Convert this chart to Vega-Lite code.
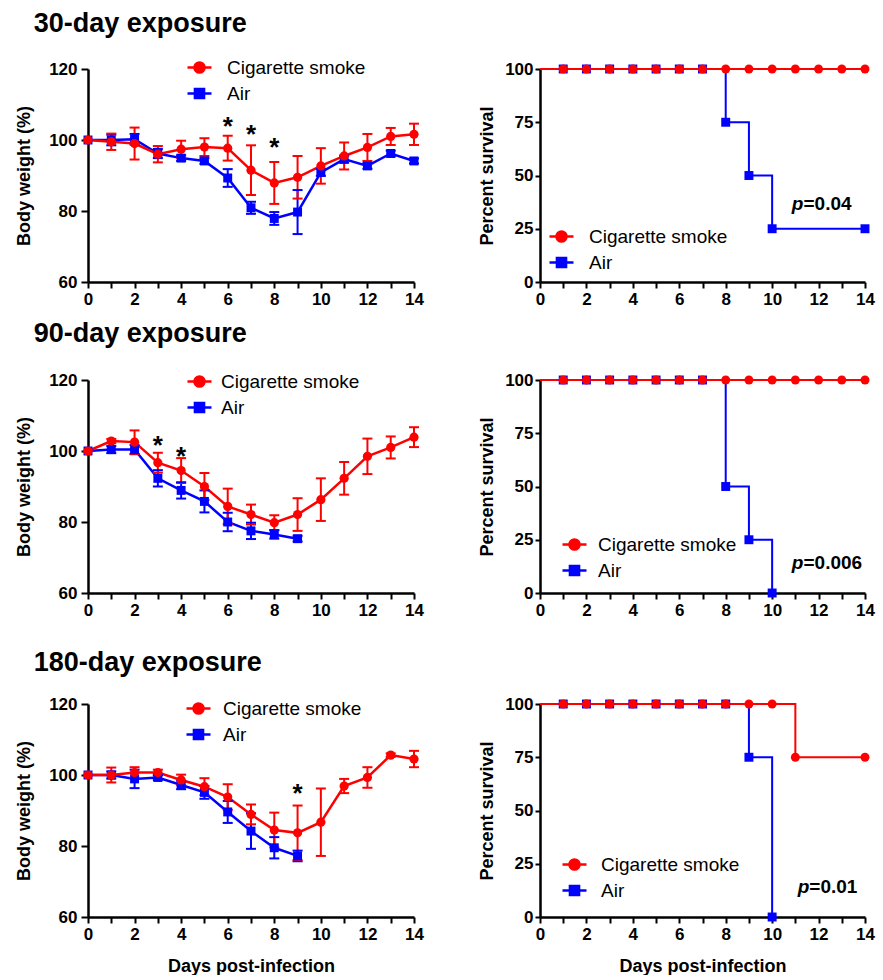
{
  "$schema": "https://vega.github.io/schema/vega-lite/v6.json",
  "padding": {"left": 15, "top": 10, "right": 4, "bottom": 0},
  "config": {
    "view": {"stroke": null},
    "font": "Liberation Sans",
    "axis": {
      "grid": false, "domainColor": "black", "domainWidth": 2.5, "tickColor": "black", "tickWidth": 2,
      "labelFont": "Liberation Sans", "labelFontSize": 17, "labelFontWeight": "bold", "labelColor": "black",
      "titleFont": "Liberation Sans", "titleFontSize": 18, "titleFontWeight": "bold", "titleColor": "black",
      "labelOverlap": false, "labelFlush": false
    },
    "legend": {
      "title": null, "orient": "none", "padding": 0,
      "labelFont": "Liberation Sans", "labelFontSize": 19, "labelFontWeight": "normal", "labelColor": "black",
      "symbolSize": 576, "rowPadding": 2, "symbolOpacity": 1, "symbolStrokeWidth": 2.5
    },
    "title": {"font": "Liberation Sans", "fontSize": 27, "fontWeight": "bold", "color": "black", "anchor": "start"}
  },
  "datasets": {
    "bw30": [
      {"day": 0, "group": "Air", "mean": 100, "lo": 100, "hi": 100},
      {"day": 1, "group": "Air", "mean": 100.0, "lo": 98.5, "hi": 101.5},
      {"day": 2, "group": "Air", "mean": 100.2, "lo": 98.7, "hi": 101.7},
      {"day": 3, "group": "Air", "mean": 96.2, "lo": 94.9, "hi": 97.5},
      {"day": 4, "group": "Air", "mean": 94.9, "lo": 94.1, "hi": 95.7},
      {"day": 5, "group": "Air", "mean": 94.1, "lo": 93.3, "hi": 94.9},
      {"day": 6, "group": "Air", "mean": 89.3, "lo": 86.8, "hi": 91.8},
      {"day": 7, "group": "Air", "mean": 80.9, "lo": 79.2, "hi": 82.6},
      {"day": 8, "group": "Air", "mean": 77.9, "lo": 76.1, "hi": 79.7},
      {"day": 9, "group": "Air", "mean": 79.7, "lo": 73.5, "hi": 85.9},
      {"day": 10, "group": "Air", "mean": 90.9, "lo": 89.9, "hi": 91.9},
      {"day": 11, "group": "Air", "mean": 94.6, "lo": 93.6, "hi": 95.6},
      {"day": 12, "group": "Air", "mean": 92.7, "lo": 91.9, "hi": 93.5},
      {"day": 13, "group": "Air", "mean": 96.2, "lo": 95.4, "hi": 97.0},
      {"day": 14, "group": "Air", "mean": 94.1, "lo": 93.4, "hi": 94.8},
      {"day": 0, "group": "Cigarette smoke", "mean": 100, "lo": 100, "hi": 100},
      {"day": 1, "group": "Cigarette smoke", "mean": 99.5, "lo": 97.2, "hi": 101.8},
      {"day": 2, "group": "Cigarette smoke", "mean": 99.0, "lo": 94.5, "hi": 103.5},
      {"day": 3, "group": "Cigarette smoke", "mean": 96.0, "lo": 93.7, "hi": 98.3},
      {"day": 4, "group": "Cigarette smoke", "mean": 97.4, "lo": 95.0, "hi": 99.8},
      {"day": 5, "group": "Cigarette smoke", "mean": 98.0, "lo": 95.5, "hi": 100.5},
      {"day": 6, "group": "Cigarette smoke", "mean": 97.7, "lo": 94.2, "hi": 101.2},
      {"day": 7, "group": "Cigarette smoke", "mean": 91.5, "lo": 84.5, "hi": 98.5},
      {"day": 8, "group": "Cigarette smoke", "mean": 87.9, "lo": 82.0, "hi": 93.8},
      {"day": 9, "group": "Cigarette smoke", "mean": 89.5, "lo": 83.5, "hi": 95.5},
      {"day": 10, "group": "Cigarette smoke", "mean": 92.7, "lo": 87.7, "hi": 97.7},
      {"day": 11, "group": "Cigarette smoke", "mean": 95.5, "lo": 91.7, "hi": 99.3},
      {"day": 12, "group": "Cigarette smoke", "mean": 97.9, "lo": 94.1, "hi": 101.7},
      {"day": 13, "group": "Cigarette smoke", "mean": 101.0, "lo": 98.6, "hi": 103.4},
      {"day": 14, "group": "Cigarette smoke", "mean": 101.6, "lo": 98.6, "hi": 104.6}
    ],
    "bw90": [
      {"day": 0, "group": "Air", "mean": 100, "lo": 100, "hi": 100},
      {"day": 1, "group": "Air", "mean": 100.4, "lo": 99.4, "hi": 101.4},
      {"day": 2, "group": "Air", "mean": 100.4, "lo": 99.1, "hi": 101.7},
      {"day": 3, "group": "Air", "mean": 92.3, "lo": 90.0, "hi": 94.6},
      {"day": 4, "group": "Air", "mean": 88.9, "lo": 86.6, "hi": 91.2},
      {"day": 5, "group": "Air", "mean": 85.8, "lo": 82.7, "hi": 88.9},
      {"day": 6, "group": "Air", "mean": 80.0, "lo": 77.4, "hi": 82.6},
      {"day": 7, "group": "Air", "mean": 77.5, "lo": 75.2, "hi": 79.8},
      {"day": 8, "group": "Air", "mean": 76.5, "lo": 75.3, "hi": 77.7},
      {"day": 9, "group": "Air", "mean": 75.3, "lo": 74.5, "hi": 76.1},
      {"day": 0, "group": "Cigarette smoke", "mean": 100, "lo": 100, "hi": 100},
      {"day": 1, "group": "Cigarette smoke", "mean": 102.8, "lo": 102.2, "hi": 103.4},
      {"day": 2, "group": "Cigarette smoke", "mean": 102.5, "lo": 99.2, "hi": 105.8},
      {"day": 3, "group": "Cigarette smoke", "mean": 96.7, "lo": 93.9, "hi": 99.5},
      {"day": 4, "group": "Cigarette smoke", "mean": 94.5, "lo": 91.0, "hi": 98.0},
      {"day": 5, "group": "Cigarette smoke", "mean": 90.0, "lo": 86.2, "hi": 93.8},
      {"day": 6, "group": "Cigarette smoke", "mean": 84.4, "lo": 79.4, "hi": 89.4},
      {"day": 7, "group": "Cigarette smoke", "mean": 82.1, "lo": 79.3, "hi": 84.9},
      {"day": 8, "group": "Cigarette smoke", "mean": 79.8, "lo": 77.7, "hi": 81.9},
      {"day": 9, "group": "Cigarette smoke", "mean": 82.1, "lo": 77.5, "hi": 86.7},
      {"day": 10, "group": "Cigarette smoke", "mean": 86.3, "lo": 80.3, "hi": 92.3},
      {"day": 11, "group": "Cigarette smoke", "mean": 92.3, "lo": 87.7, "hi": 96.9},
      {"day": 12, "group": "Cigarette smoke", "mean": 98.5, "lo": 93.5, "hi": 103.5},
      {"day": 13, "group": "Cigarette smoke", "mean": 101.0, "lo": 97.9, "hi": 104.1},
      {"day": 14, "group": "Cigarette smoke", "mean": 103.9, "lo": 101.1, "hi": 106.7}
    ],
    "bw180": [
      {"day": 0, "group": "Air", "mean": 100, "lo": 100, "hi": 100},
      {"day": 1, "group": "Air", "mean": 100.0, "lo": 99.0, "hi": 101.0},
      {"day": 2, "group": "Air", "mean": 98.9, "lo": 96.3, "hi": 101.5},
      {"day": 3, "group": "Air", "mean": 99.3, "lo": 98.6, "hi": 100.0},
      {"day": 4, "group": "Air", "mean": 97.2, "lo": 96.0, "hi": 98.4},
      {"day": 5, "group": "Air", "mean": 95.1, "lo": 93.3, "hi": 96.9},
      {"day": 6, "group": "Air", "mean": 89.6, "lo": 86.5, "hi": 92.7},
      {"day": 7, "group": "Air", "mean": 84.2, "lo": 79.2, "hi": 89.2},
      {"day": 8, "group": "Air", "mean": 79.5, "lo": 76.5, "hi": 82.5},
      {"day": 9, "group": "Air", "mean": 77.2, "lo": 75.7, "hi": 78.7},
      {"day": 0, "group": "Cigarette smoke", "mean": 100, "lo": 100, "hi": 100},
      {"day": 1, "group": "Cigarette smoke", "mean": 100.0, "lo": 97.9, "hi": 102.1},
      {"day": 2, "group": "Cigarette smoke", "mean": 100.7, "lo": 99.2, "hi": 102.2},
      {"day": 3, "group": "Cigarette smoke", "mean": 100.7, "lo": 99.9, "hi": 101.5},
      {"day": 4, "group": "Cigarette smoke", "mean": 98.6, "lo": 97.1, "hi": 100.1},
      {"day": 5, "group": "Cigarette smoke", "mean": 96.7, "lo": 94.3, "hi": 99.1},
      {"day": 6, "group": "Cigarette smoke", "mean": 93.8, "lo": 90.2, "hi": 97.4},
      {"day": 7, "group": "Cigarette smoke", "mean": 88.9, "lo": 86.1, "hi": 91.7},
      {"day": 8, "group": "Cigarette smoke", "mean": 84.5, "lo": 79.6, "hi": 89.4},
      {"day": 9, "group": "Cigarette smoke", "mean": 83.7, "lo": 76.0, "hi": 91.4},
      {"day": 10, "group": "Cigarette smoke", "mean": 86.7, "lo": 77.2, "hi": 96.2},
      {"day": 11, "group": "Cigarette smoke", "mean": 96.9, "lo": 94.9, "hi": 98.9},
      {"day": 12, "group": "Cigarette smoke", "mean": 99.3, "lo": 96.4, "hi": 102.2},
      {"day": 13, "group": "Cigarette smoke", "mean": 105.6, "lo": 105.1, "hi": 106.1},
      {"day": 14, "group": "Cigarette smoke", "mean": 104.5, "lo": 102.2, "hi": 106.8}
    ],
    "star30": [{"day": 6, "y": 105.3}, {"day": 7, "y": 103.0}, {"day": 8, "y": 99.5}],
    "star90": [{"day": 3, "y": 103.2}, {"day": 4, "y": 100.0}],
    "star180": [{"day": 9, "y": 96.3}],
    "sv30": [
      {"day": 0, "group": "Air", "pct": 100}, {"day": 1, "group": "Air", "pct": 100}, {"day": 2, "group": "Air", "pct": 100},
      {"day": 3, "group": "Air", "pct": 100}, {"day": 4, "group": "Air", "pct": 100}, {"day": 5, "group": "Air", "pct": 100},
      {"day": 6, "group": "Air", "pct": 100}, {"day": 7, "group": "Air", "pct": 100}, {"day": 8, "group": "Air", "pct": 75},
      {"day": 9, "group": "Air", "pct": 50}, {"day": 10, "group": "Air", "pct": 25}, {"day": 14, "group": "Air", "pct": 25},
      {"day": 0, "group": "Cigarette smoke", "pct": 100}, {"day": 1, "group": "Cigarette smoke", "pct": 100},
      {"day": 2, "group": "Cigarette smoke", "pct": 100}, {"day": 3, "group": "Cigarette smoke", "pct": 100},
      {"day": 4, "group": "Cigarette smoke", "pct": 100}, {"day": 5, "group": "Cigarette smoke", "pct": 100},
      {"day": 6, "group": "Cigarette smoke", "pct": 100}, {"day": 7, "group": "Cigarette smoke", "pct": 100},
      {"day": 8, "group": "Cigarette smoke", "pct": 100}, {"day": 9, "group": "Cigarette smoke", "pct": 100},
      {"day": 10, "group": "Cigarette smoke", "pct": 100}, {"day": 11, "group": "Cigarette smoke", "pct": 100},
      {"day": 12, "group": "Cigarette smoke", "pct": 100}, {"day": 13, "group": "Cigarette smoke", "pct": 100},
      {"day": 14, "group": "Cigarette smoke", "pct": 100}
    ],
    "sv90": [
      {"day": 0, "group": "Air", "pct": 100}, {"day": 1, "group": "Air", "pct": 100}, {"day": 2, "group": "Air", "pct": 100},
      {"day": 3, "group": "Air", "pct": 100}, {"day": 4, "group": "Air", "pct": 100}, {"day": 5, "group": "Air", "pct": 100},
      {"day": 6, "group": "Air", "pct": 100}, {"day": 7, "group": "Air", "pct": 100}, {"day": 8, "group": "Air", "pct": 50},
      {"day": 9, "group": "Air", "pct": 25}, {"day": 10, "group": "Air", "pct": 0},
      {"day": 0, "group": "Cigarette smoke", "pct": 100}, {"day": 1, "group": "Cigarette smoke", "pct": 100},
      {"day": 2, "group": "Cigarette smoke", "pct": 100}, {"day": 3, "group": "Cigarette smoke", "pct": 100},
      {"day": 4, "group": "Cigarette smoke", "pct": 100}, {"day": 5, "group": "Cigarette smoke", "pct": 100},
      {"day": 6, "group": "Cigarette smoke", "pct": 100}, {"day": 7, "group": "Cigarette smoke", "pct": 100},
      {"day": 8, "group": "Cigarette smoke", "pct": 100}, {"day": 9, "group": "Cigarette smoke", "pct": 100},
      {"day": 10, "group": "Cigarette smoke", "pct": 100}, {"day": 11, "group": "Cigarette smoke", "pct": 100},
      {"day": 12, "group": "Cigarette smoke", "pct": 100}, {"day": 13, "group": "Cigarette smoke", "pct": 100},
      {"day": 14, "group": "Cigarette smoke", "pct": 100}
    ],
    "sv180": [
      {"day": 0, "group": "Air", "pct": 100}, {"day": 1, "group": "Air", "pct": 100}, {"day": 2, "group": "Air", "pct": 100},
      {"day": 3, "group": "Air", "pct": 100}, {"day": 4, "group": "Air", "pct": 100}, {"day": 5, "group": "Air", "pct": 100},
      {"day": 6, "group": "Air", "pct": 100}, {"day": 7, "group": "Air", "pct": 100}, {"day": 8, "group": "Air", "pct": 100},
      {"day": 9, "group": "Air", "pct": 75}, {"day": 10, "group": "Air", "pct": 0},
      {"day": 0, "group": "Cigarette smoke", "pct": 100}, {"day": 1, "group": "Cigarette smoke", "pct": 100},
      {"day": 2, "group": "Cigarette smoke", "pct": 100}, {"day": 3, "group": "Cigarette smoke", "pct": 100},
      {"day": 4, "group": "Cigarette smoke", "pct": 100}, {"day": 5, "group": "Cigarette smoke", "pct": 100},
      {"day": 6, "group": "Cigarette smoke", "pct": 100}, {"day": 7, "group": "Cigarette smoke", "pct": 100},
      {"day": 8, "group": "Cigarette smoke", "pct": 100}, {"day": 9, "group": "Cigarette smoke", "pct": 100},
      {"day": 10, "group": "Cigarette smoke", "pct": 100}, {"day": 11, "group": "Cigarette smoke", "pct": 75},
      {"day": 14, "group": "Cigarette smoke", "pct": 75}
    ],
    "p30": [{"day": 11.35, "y": 36.5, "value": "=0.04"}],
    "p90": [{"day": 11.35, "y": 14, "value": "=0.006"}],
    "p180": [{"day": 11.6, "y": 14, "value": "=0.01"}]
  },
  "resolve": {"scale": {"color": "independent"}},
  "spacing": 31,
  "vconcat": [
    {
      "resolve": {"scale": {"color": "independent"}},
      "spacing": 13,
      "vconcat": [
        {
          "title": {"text": "30-day exposure", "offset": 16, "dx": 18},
          "resolve": {"scale": {"color": "independent"}},
          "spacing": 54,
          "hconcat": [
            {
              "width": 326, "height": 213,
              "data": {"name": "bw30"},
              "encoding": {"x": {"field": "day", "type": "quantitative", "scale": {"domain": [0, 14], "nice": false},
                "axis": {"values": [0,1,2,3,4,5,6,7,8,9,10,11,12,13,14], "labelExpr": "datum.value % 2 === 0 ? datum.label : ''", "labelOverlap": false, "title": null, "tickSize": 6, "labelPadding": 3}}},
              "layer": [
                {"mark": {"type": "line", "strokeWidth": 2.5},
                 "encoding": {
                   "y": {"field": "mean", "type": "quantitative", "scale": {"domain": [60, 120], "nice": false},
                     "axis": {"values": [60,70,80,90,100,110,120], "labelOverlap": false, "title": "Body weight (%)", "tickSize": 7, "labelPadding": 4, "titlePadding": 15}},
                   "color": {"field": "group", "type": "nominal", "scale": {"domain": ["Cigarette smoke", "Air"], "range": ["#ff0000", "#0000ff"]},
                     "legend": {"legendX": 98, "legendY": -15, "labelOffset": 14,
                       "encode": {"symbols": {"update": {
                         "shape": {"signal": "datum.value === 'Air' ? 'M-1,0H1M-0.38,-0.38H0.38V0.38H-0.38Z' : 'M-1,0H1M-0.42,0A0.42,0.42 0 1,0 0.42,0A0.42,0.42 0 1,0 -0.42,0Z'"},
                         "stroke": {"signal": "datum.value === 'Air' ? '#0000ff' : '#ff0000'"},
                         "fill": {"signal": "datum.value === 'Air' ? '#0000ff' : '#ff0000'"},
                         "strokeWidth": {"value": 2.5}, "size": {"value": 576}, "opacity": {"value": 1}}}}}}}},
                {"mark": {"type": "rule", "strokeWidth": 2},
                 "encoding": {"y": {"field": "lo", "type": "quantitative"}, "y2": {"field": "hi"}, "color": {"field": "group", "type": "nominal"}}},
                {"mark": {"type": "tick", "orient": "horizontal", "size": 10, "thickness": 2, "opacity": 1},
                 "encoding": {"y": {"field": "lo", "type": "quantitative"}, "color": {"field": "group", "type": "nominal"}}},
                {"mark": {"type": "tick", "orient": "horizontal", "size": 10, "thickness": 2, "opacity": 1},
                 "encoding": {"y": {"field": "hi", "type": "quantitative"}, "color": {"field": "group", "type": "nominal"}}},
                {"transform": [{"filter": "datum.group === 'Air'"}],
                 "mark": {"type": "point", "shape": "square", "filled": true, "size": 80, "opacity": 1},
                 "encoding": {"y": {"field": "mean", "type": "quantitative"}, "color": {"field": "group", "type": "nominal"}}},
                {"transform": [{"filter": "datum.group === 'Cigarette smoke'"}],
                 "mark": {"type": "point", "shape": "circle", "filled": true, "size": 85, "opacity": 1},
                 "encoding": {"y": {"field": "mean", "type": "quantitative"}, "color": {"field": "group", "type": "nominal"}}},
                {"data": {"values": [{"threshold": 75}]},
                 "mark": {"type": "rule", "color": "#ff0000", "strokeWidth": 2, "strokeDash": [2, 4]},
                 "encoding": {"x": {"datum": 0}, "x2": {"datum": 14}, "y": {"field": "threshold", "type": "quantitative"}}},
                {"data": {"name": "star30"},
                 "mark": {"type": "text", "text": "*", "fontSize": 26, "fontWeight": "bold", "baseline": "middle", "dy": 6, "color": "black"},
                 "encoding": {"y": {"field": "y", "type": "quantitative"}}}
              ]
            },
            {
              "width": 325, "height": 213,
              "data": {"name": "sv30"},
              "encoding": {"x": {"field": "day", "type": "quantitative", "scale": {"domain": [0, 14], "nice": false},
                "axis": {"values": [0,1,2,3,4,5,6,7,8,9,10,11,12,13,14], "labelExpr": "datum.value % 2 === 0 ? datum.label : ''", "labelOverlap": false, "title": null, "tickSize": 6, "labelPadding": 3}}},
              "layer": [
                {"mark": {"type": "line", "interpolate": "step-after", "strokeWidth": 2},
                 "encoding": {
                   "y": {"field": "pct", "type": "quantitative", "scale": {"domain": [0, 100], "nice": false},
                     "axis": {"values": [0, 25, 50, 75, 100], "labelOverlap": false, "title": "Percent survival", "tickSize": 5, "labelPadding": 2, "titlePadding": 8}},
                   "color": {"field": "group", "type": "nominal", "scale": {"domain": ["Cigarette smoke", "Air"], "range": ["#ff0000", "#0000ff"]},
                     "legend": {"legendX": 8, "legendY": 154, "labelOffset": 14,
                       "encode": {"symbols": {"update": {
                         "shape": {"signal": "datum.value === 'Air' ? 'M-1,0H1M-0.38,-0.38H0.38V0.38H-0.38Z' : 'M-1,0H1M-0.42,0A0.42,0.42 0 1,0 0.42,0A0.42,0.42 0 1,0 -0.42,0Z'"},
                         "stroke": {"signal": "datum.value === 'Air' ? '#0000ff' : '#ff0000'"},
                         "fill": {"signal": "datum.value === 'Air' ? '#0000ff' : '#ff0000'"},
                         "strokeWidth": {"value": 2.5}, "size": {"value": 576}, "opacity": {"value": 1}}}}}}}},
                {"transform": [{"filter": "datum.day > 0 && datum.group === 'Air'"}],
                 "mark": {"type": "point", "shape": "square", "filled": true, "size": 80, "opacity": 1},
                 "encoding": {"y": {"field": "pct", "type": "quantitative"}, "color": {"field": "group", "type": "nominal"}}},
                {"transform": [{"filter": "datum.day > 0 && datum.group === 'Cigarette smoke'"}],
                 "mark": {"type": "point", "shape": "circle", "filled": true, "size": 80, "opacity": 1},
                 "encoding": {"y": {"field": "pct", "type": "quantitative"}, "color": {"field": "group", "type": "nominal"}}},
                {"data": {"name": "p30"},
                 "mark": {"type": "text", "text": "p", "fontSize": 19, "fontWeight": "bold", "fontStyle": "italic", "align": "right", "baseline": "middle", "color": "black"},
                 "encoding": {"y": {"field": "y", "type": "quantitative"}}},
                {"data": {"name": "p30"},
                 "mark": {"type": "text", "fontSize": 19, "fontWeight": "bold", "align": "left", "baseline": "middle", "color": "black"},
                 "encoding": {"y": {"field": "y", "type": "quantitative"}, "text": {"field": "value"}}}
              ]
            }
          ]
        },
        {
          "title": {"text": "90-day exposure", "offset": 20, "dx": 18},
          "resolve": {"scale": {"color": "independent"}},
          "spacing": 54,
          "hconcat": [
            {
              "width": 326, "height": 213,
              "data": {"name": "bw90"},
              "encoding": {"x": {"field": "day", "type": "quantitative", "scale": {"domain": [0, 14], "nice": false},
                "axis": {"values": [0,1,2,3,4,5,6,7,8,9,10,11,12,13,14], "labelExpr": "datum.value % 2 === 0 ? datum.label : ''", "labelOverlap": false, "title": null, "tickSize": 6, "labelPadding": 3}}},
              "layer": [
                {"mark": {"type": "line", "strokeWidth": 2.5},
                 "encoding": {
                   "y": {"field": "mean", "type": "quantitative", "scale": {"domain": [60, 120], "nice": false},
                     "axis": {"values": [60,70,80,90,100,110,120], "labelOverlap": false, "title": "Body weight (%)", "tickSize": 7, "labelPadding": 4, "titlePadding": 15}},
                   "color": {"field": "group", "type": "nominal", "scale": {"domain": ["Cigarette smoke", "Air"], "range": ["#ff0000", "#0000ff"]},
                     "legend": {"legendX": 98, "legendY": -12, "labelOffset": 8,
                       "encode": {"symbols": {"update": {
                         "shape": {"signal": "datum.value === 'Air' ? 'M-1,0H1M-0.38,-0.38H0.38V0.38H-0.38Z' : 'M-1,0H1M-0.42,0A0.42,0.42 0 1,0 0.42,0A0.42,0.42 0 1,0 -0.42,0Z'"},
                         "stroke": {"signal": "datum.value === 'Air' ? '#0000ff' : '#ff0000'"},
                         "fill": {"signal": "datum.value === 'Air' ? '#0000ff' : '#ff0000'"},
                         "strokeWidth": {"value": 2.5}, "size": {"value": 576}, "opacity": {"value": 1}}}}}}}},
                {"mark": {"type": "rule", "strokeWidth": 2},
                 "encoding": {"y": {"field": "lo", "type": "quantitative"}, "y2": {"field": "hi"}, "color": {"field": "group", "type": "nominal"}}},
                {"mark": {"type": "tick", "orient": "horizontal", "size": 10, "thickness": 2, "opacity": 1},
                 "encoding": {"y": {"field": "lo", "type": "quantitative"}, "color": {"field": "group", "type": "nominal"}}},
                {"mark": {"type": "tick", "orient": "horizontal", "size": 10, "thickness": 2, "opacity": 1},
                 "encoding": {"y": {"field": "hi", "type": "quantitative"}, "color": {"field": "group", "type": "nominal"}}},
                {"transform": [{"filter": "datum.group === 'Air'"}],
                 "mark": {"type": "point", "shape": "square", "filled": true, "size": 80, "opacity": 1},
                 "encoding": {"y": {"field": "mean", "type": "quantitative"}, "color": {"field": "group", "type": "nominal"}}},
                {"transform": [{"filter": "datum.group === 'Cigarette smoke'"}],
                 "mark": {"type": "point", "shape": "circle", "filled": true, "size": 85, "opacity": 1},
                 "encoding": {"y": {"field": "mean", "type": "quantitative"}, "color": {"field": "group", "type": "nominal"}}},
                {"data": {"values": [{"threshold": 75}]},
                 "mark": {"type": "rule", "color": "#ff0000", "strokeWidth": 2, "strokeDash": [2, 4]},
                 "encoding": {"x": {"datum": 0}, "x2": {"datum": 14}, "y": {"field": "threshold", "type": "quantitative"}}},
                {"data": {"name": "star90"},
                 "mark": {"type": "text", "text": "*", "fontSize": 26, "fontWeight": "bold", "baseline": "middle", "dy": 6, "color": "black"},
                 "encoding": {"y": {"field": "y", "type": "quantitative"}}}
              ]
            },
            {
              "width": 325, "height": 213,
              "data": {"name": "sv90"},
              "encoding": {"x": {"field": "day", "type": "quantitative", "scale": {"domain": [0, 14], "nice": false},
                "axis": {"values": [0,1,2,3,4,5,6,7,8,9,10,11,12,13,14], "labelExpr": "datum.value % 2 === 0 ? datum.label : ''", "labelOverlap": false, "title": null, "tickSize": 6, "labelPadding": 3}}},
              "layer": [
                {"mark": {"type": "line", "interpolate": "step-after", "strokeWidth": 2},
                 "encoding": {
                   "y": {"field": "pct", "type": "quantitative", "scale": {"domain": [0, 100], "nice": false},
                     "axis": {"values": [0, 25, 50, 75, 100], "labelOverlap": false, "title": "Percent survival", "tickSize": 5, "labelPadding": 2, "titlePadding": 8}},
                   "color": {"field": "group", "type": "nominal", "scale": {"domain": ["Cigarette smoke", "Air"], "range": ["#ff0000", "#0000ff"]},
                     "legend": {"legendX": 21, "legendY": 151, "labelOffset": 10,
                       "encode": {"symbols": {"update": {
                         "shape": {"signal": "datum.value === 'Air' ? 'M-1,0H1M-0.38,-0.38H0.38V0.38H-0.38Z' : 'M-1,0H1M-0.42,0A0.42,0.42 0 1,0 0.42,0A0.42,0.42 0 1,0 -0.42,0Z'"},
                         "stroke": {"signal": "datum.value === 'Air' ? '#0000ff' : '#ff0000'"},
                         "fill": {"signal": "datum.value === 'Air' ? '#0000ff' : '#ff0000'"},
                         "strokeWidth": {"value": 2.5}, "size": {"value": 576}, "opacity": {"value": 1}}}}}}}},
                {"transform": [{"filter": "datum.day > 0 && datum.group === 'Air'"}],
                 "mark": {"type": "point", "shape": "square", "filled": true, "size": 80, "opacity": 1},
                 "encoding": {"y": {"field": "pct", "type": "quantitative"}, "color": {"field": "group", "type": "nominal"}}},
                {"transform": [{"filter": "datum.day > 0 && datum.group === 'Cigarette smoke'"}],
                 "mark": {"type": "point", "shape": "circle", "filled": true, "size": 80, "opacity": 1},
                 "encoding": {"y": {"field": "pct", "type": "quantitative"}, "color": {"field": "group", "type": "nominal"}}},
                {"data": {"name": "p90"},
                 "mark": {"type": "text", "text": "p", "fontSize": 19, "fontWeight": "bold", "fontStyle": "italic", "align": "right", "baseline": "middle", "color": "black"},
                 "encoding": {"y": {"field": "y", "type": "quantitative"}}},
                {"data": {"name": "p90"},
                 "mark": {"type": "text", "fontSize": 19, "fontWeight": "bold", "align": "left", "baseline": "middle", "color": "black"},
                 "encoding": {"y": {"field": "y", "type": "quantitative"}, "text": {"field": "value"}}}
              ]
            }
          ]
        }
      ]
    },
    {
      "title": {"text": "180-day exposure", "offset": 18, "dx": 18},
      "resolve": {"scale": {"color": "independent"}},
      "spacing": 54,
      "hconcat": [
        {
          "width": 326, "height": 213,
          "data": {"name": "bw180"},
          "encoding": {"x": {"field": "day", "type": "quantitative", "scale": {"domain": [0, 14], "nice": false},
            "axis": {"values": [0,1,2,3,4,5,6,7,8,9,10,11,12,13,14], "labelExpr": "datum.value % 2 === 0 ? datum.label : ''", "labelOverlap": false, "title": "Days post-infection", "titlePadding": 15, "tickSize": 6, "labelPadding": 3}}},
          "layer": [
            {"mark": {"type": "line", "strokeWidth": 2.5},
             "encoding": {
               "y": {"field": "mean", "type": "quantitative", "scale": {"domain": [60, 120], "nice": false},
                 "axis": {"values": [60,70,80,90,100,110,120], "labelOverlap": false, "title": "Body weight (%)", "tickSize": 7, "labelPadding": 4, "titlePadding": 15}},
               "color": {"field": "group", "type": "nominal", "scale": {"domain": ["Cigarette smoke", "Air"], "range": ["#ff0000", "#0000ff"]},
                 "legend": {"legendX": 97, "legendY": -9, "labelOffset": 11,
                   "encode": {"symbols": {"update": {
                     "shape": {"signal": "datum.value === 'Air' ? 'M-1,0H1M-0.38,-0.38H0.38V0.38H-0.38Z' : 'M-1,0H1M-0.42,0A0.42,0.42 0 1,0 0.42,0A0.42,0.42 0 1,0 -0.42,0Z'"},
                     "stroke": {"signal": "datum.value === 'Air' ? '#0000ff' : '#ff0000'"},
                     "fill": {"signal": "datum.value === 'Air' ? '#0000ff' : '#ff0000'"},
                     "strokeWidth": {"value": 2.5}, "size": {"value": 576}, "opacity": {"value": 1}}}}}}}},
            {"mark": {"type": "rule", "strokeWidth": 2},
             "encoding": {"y": {"field": "lo", "type": "quantitative"}, "y2": {"field": "hi"}, "color": {"field": "group", "type": "nominal"}}},
            {"mark": {"type": "tick", "orient": "horizontal", "size": 10, "thickness": 2, "opacity": 1},
             "encoding": {"y": {"field": "lo", "type": "quantitative"}, "color": {"field": "group", "type": "nominal"}}},
            {"mark": {"type": "tick", "orient": "horizontal", "size": 10, "thickness": 2, "opacity": 1},
             "encoding": {"y": {"field": "hi", "type": "quantitative"}, "color": {"field": "group", "type": "nominal"}}},
            {"transform": [{"filter": "datum.group === 'Air'"}],
             "mark": {"type": "point", "shape": "square", "filled": true, "size": 80, "opacity": 1},
             "encoding": {"y": {"field": "mean", "type": "quantitative"}, "color": {"field": "group", "type": "nominal"}}},
            {"transform": [{"filter": "datum.group === 'Cigarette smoke'"}],
             "mark": {"type": "point", "shape": "circle", "filled": true, "size": 85, "opacity": 1},
             "encoding": {"y": {"field": "mean", "type": "quantitative"}, "color": {"field": "group", "type": "nominal"}}},
            {"data": {"values": [{"threshold": 75}]},
             "mark": {"type": "rule", "color": "#ff0000", "strokeWidth": 2, "strokeDash": [2, 4]},
             "encoding": {"x": {"datum": 0}, "x2": {"datum": 14}, "y": {"field": "threshold", "type": "quantitative"}}},
            {"data": {"name": "star180"},
             "mark": {"type": "text", "text": "*", "fontSize": 26, "fontWeight": "bold", "baseline": "middle", "dy": 6, "color": "black"},
             "encoding": {"y": {"field": "y", "type": "quantitative"}}}
          ]
        },
        {
          "width": 325, "height": 213,
          "data": {"name": "sv180"},
          "encoding": {"x": {"field": "day", "type": "quantitative", "scale": {"domain": [0, 14], "nice": false},
            "axis": {"values": [0,1,2,3,4,5,6,7,8,9,10,11,12,13,14], "labelExpr": "datum.value % 2 === 0 ? datum.label : ''", "labelOverlap": false, "title": "Days post-infection", "titlePadding": 15, "tickSize": 6, "labelPadding": 3}}},
          "layer": [
            {"mark": {"type": "line", "interpolate": "step-after", "strokeWidth": 2},
             "encoding": {
               "y": {"field": "pct", "type": "quantitative", "scale": {"domain": [0, 100], "nice": false},
                 "axis": {"values": [0, 25, 50, 75, 100], "labelOverlap": false, "title": "Percent survival", "tickSize": 5, "labelPadding": 2, "titlePadding": 8}},
               "color": {"field": "group", "type": "nominal", "scale": {"domain": ["Cigarette smoke", "Air"], "range": ["#ff0000", "#0000ff"]},
                 "legend": {"legendX": 21, "legendY": 147, "labelOffset": 13,
                   "encode": {"symbols": {"update": {
                     "shape": {"signal": "datum.value === 'Air' ? 'M-1,0H1M-0.38,-0.38H0.38V0.38H-0.38Z' : 'M-1,0H1M-0.42,0A0.42,0.42 0 1,0 0.42,0A0.42,0.42 0 1,0 -0.42,0Z'"},
                     "stroke": {"signal": "datum.value === 'Air' ? '#0000ff' : '#ff0000'"},
                     "fill": {"signal": "datum.value === 'Air' ? '#0000ff' : '#ff0000'"},
                     "strokeWidth": {"value": 2.5}, "size": {"value": 576}, "opacity": {"value": 1}}}}}}}},
            {"transform": [{"filter": "datum.day > 0 && datum.group === 'Air'"}],
             "mark": {"type": "point", "shape": "square", "filled": true, "size": 80, "opacity": 1},
             "encoding": {"y": {"field": "pct", "type": "quantitative"}, "color": {"field": "group", "type": "nominal"}}},
            {"transform": [{"filter": "datum.day > 0 && datum.group === 'Cigarette smoke'"}],
             "mark": {"type": "point", "shape": "circle", "filled": true, "size": 80, "opacity": 1},
             "encoding": {"y": {"field": "pct", "type": "quantitative"}, "color": {"field": "group", "type": "nominal"}}},
            {"data": {"name": "p180"},
             "mark": {"type": "text", "text": "p", "fontSize": 19, "fontWeight": "bold", "fontStyle": "italic", "align": "right", "baseline": "middle", "color": "black"},
             "encoding": {"y": {"field": "y", "type": "quantitative"}}},
            {"data": {"name": "p180"},
             "mark": {"type": "text", "fontSize": 19, "fontWeight": "bold", "align": "left", "baseline": "middle", "color": "black"},
             "encoding": {"y": {"field": "y", "type": "quantitative"}, "text": {"field": "value"}}}
          ]
        }
      ]
    }
  ]
}
